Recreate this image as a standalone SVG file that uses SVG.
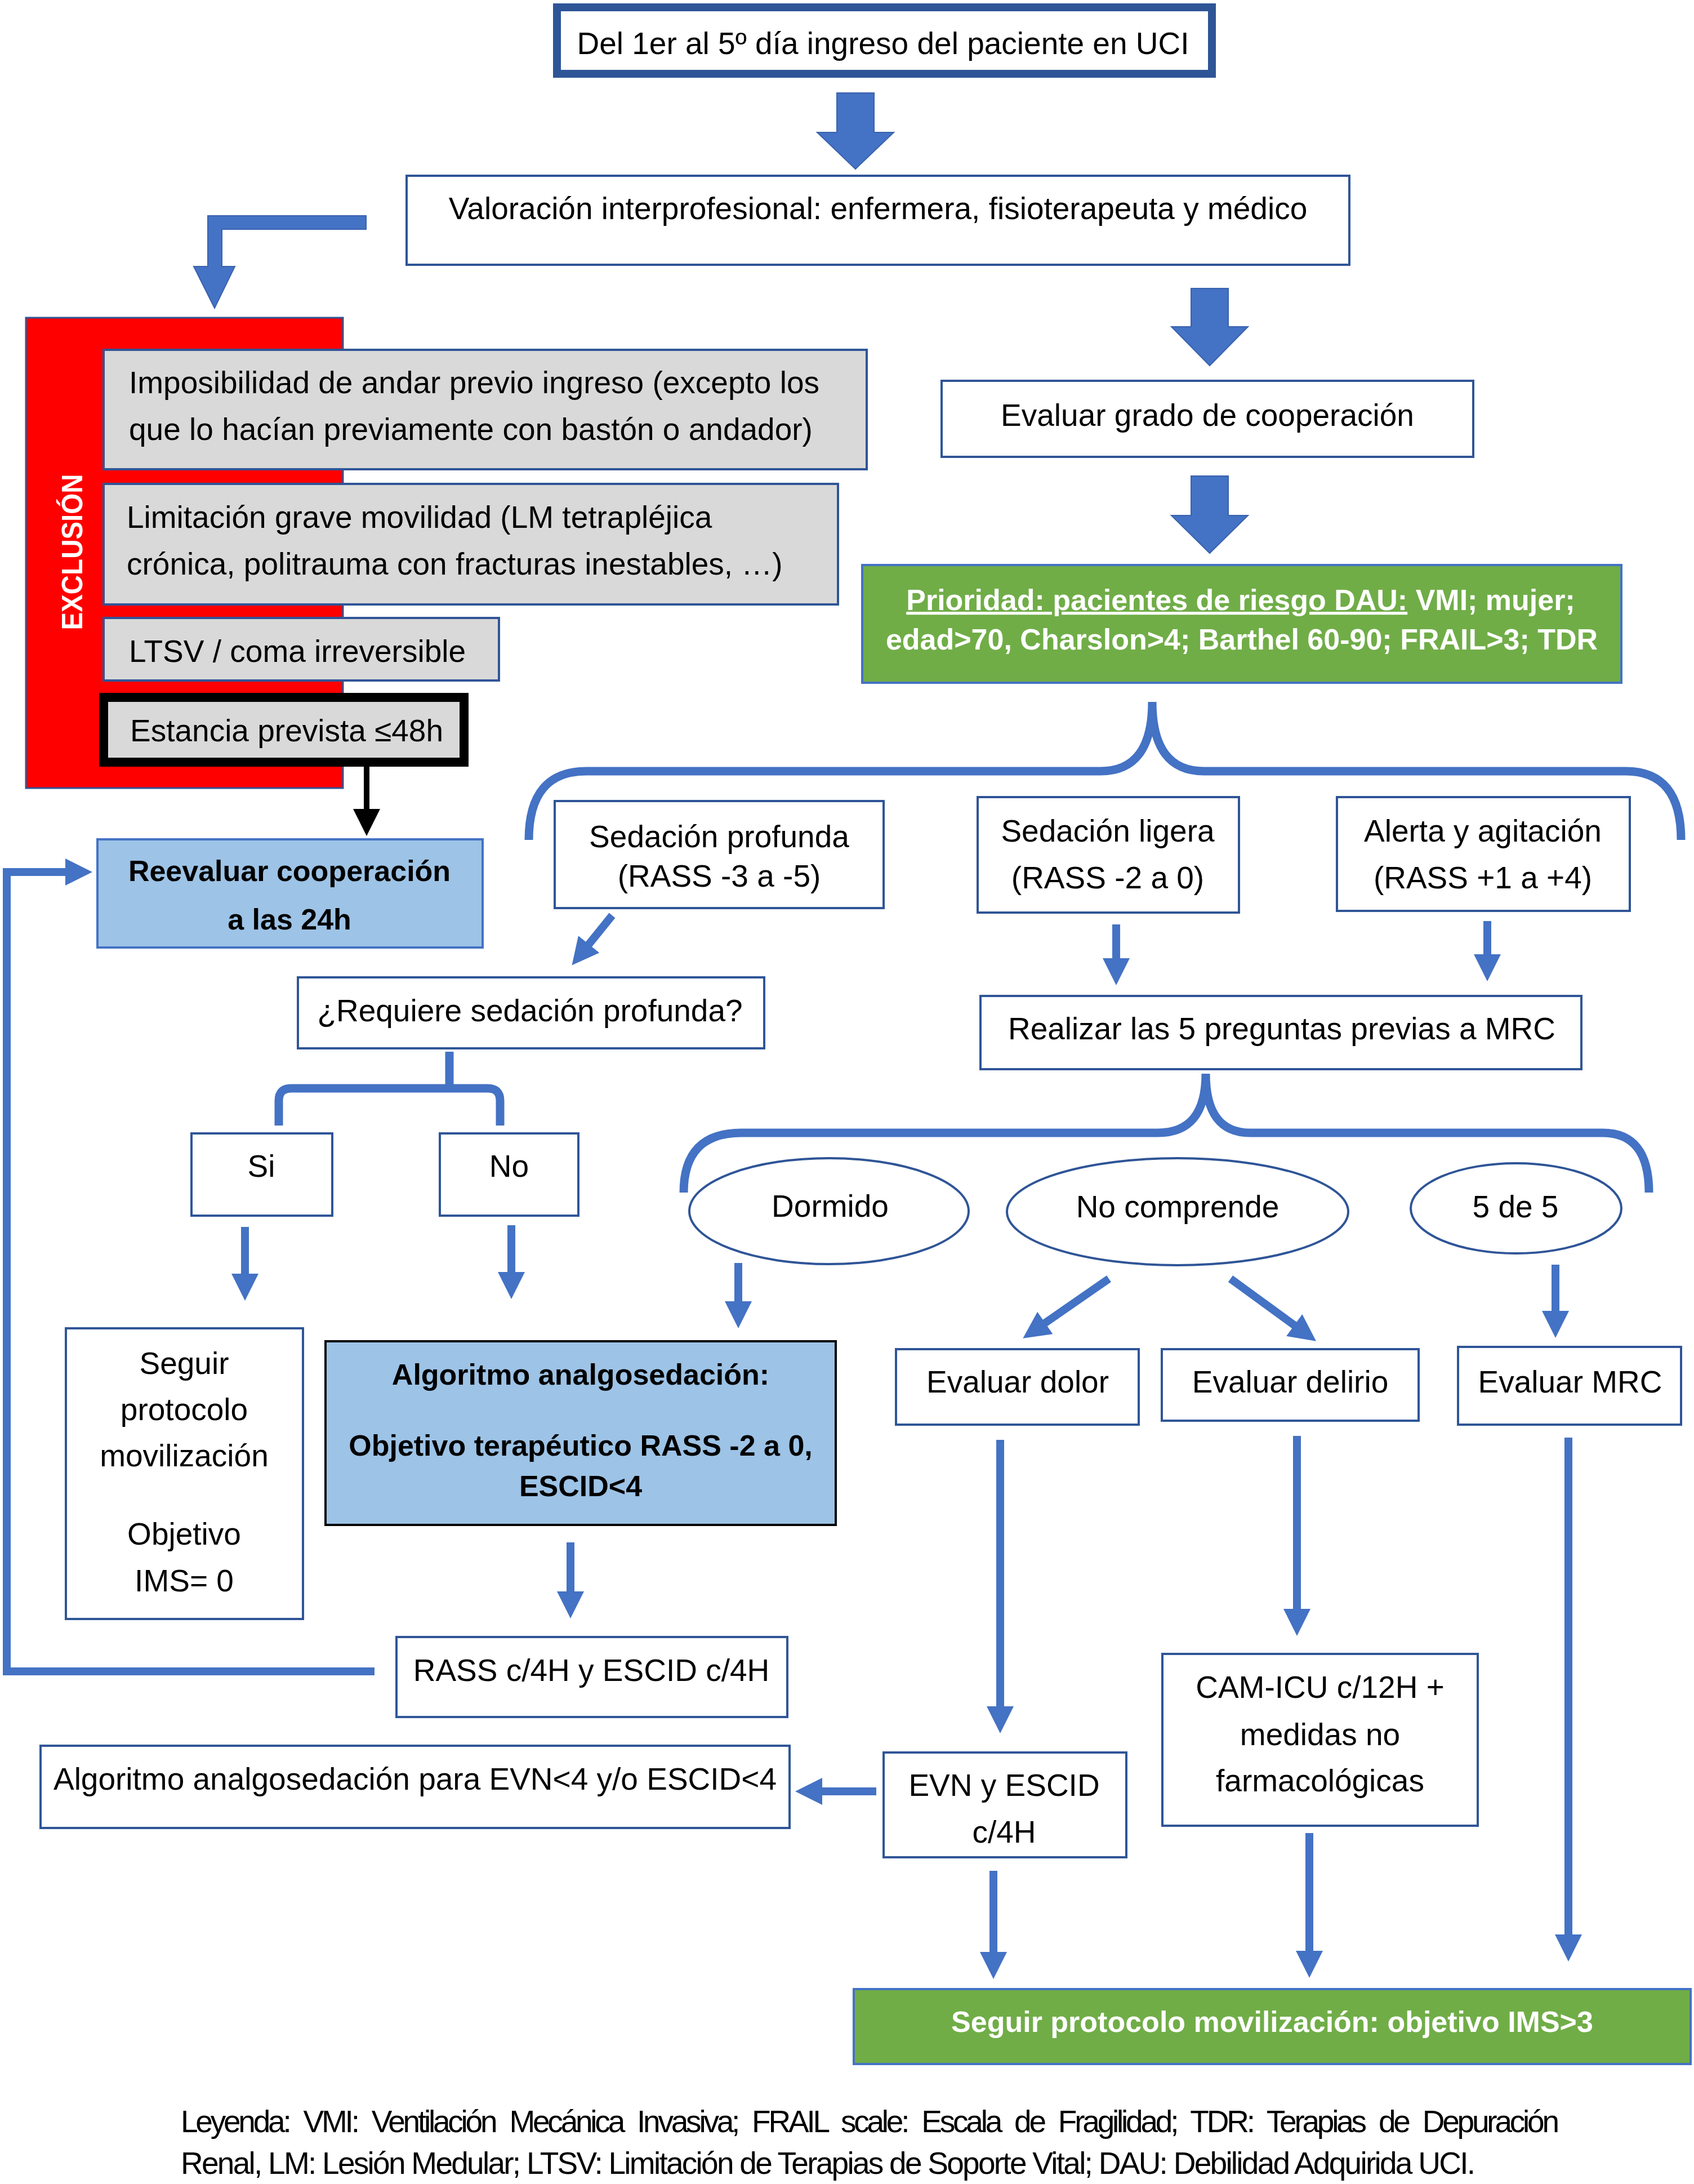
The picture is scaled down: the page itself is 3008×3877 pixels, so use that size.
<svg xmlns="http://www.w3.org/2000/svg" width="3008" height="3877" viewBox="0 0 3008 3877">
<style>
.box{fill:#fff;stroke:#2F5597;stroke-width:4}
.gray{fill:#D9D9D9;stroke:#2F5597;stroke-width:4}
.t{font-family:"Liberation Sans",Arial,sans-serif;font-size:55px;fill:#000}
.b{font-weight:bold;font-size:52px}
.c{text-anchor:middle}
.w{fill:#fff}
.conn{fill:none;stroke:#4472C4;stroke-width:14}
.brace{fill:none;stroke:#4472C4;stroke-width:15}
.block{fill:#4472C4;stroke:#3A62AE;stroke-width:2}
</style>
<defs>
<marker id="ah" markerUnits="userSpaceOnUse" markerWidth="48" markerHeight="48" viewBox="0 0 48 48" refX="1" refY="24" orient="auto"><path d="M0,0 L48,24 L0,48 z" fill="#4472C4"/></marker>
<marker id="ahk" markerUnits="userSpaceOnUse" markerWidth="48" markerHeight="48" viewBox="0 0 48 48" refX="1" refY="24" orient="auto"><path d="M0,0 L48,24 L0,48 z" fill="#000"/></marker>
</defs>
<rect width="3008" height="3877" fill="#fff"/>

<g id="connectors">
<polygon class="block" points="1486,165 1552,165 1552,235 1587,235 1519,300 1451,235 1486,235"/>
<polygon class="block" points="2115,512 2181,512 2181,580 2216,580 2148,649 2080,580 2115,580"/>
<polygon class="block" points="2115,845 2181,845 2181,915 2216,915 2148,982 2080,915 2115,915"/>
<polygon class="block" points="650,383 369,383 369,473 344,473 381,547 417,473 394,473 394,407 650,407"/>
<line x1="651" y1="1361" x2="651" y2="1437" stroke="#000" stroke-width="10" marker-end="url(#ahk)"/>
<path class="conn" d="M665,2967 L12,2967 L12,1548 L117,1548" marker-end="url(#ah)"/>
<path class="brace" d="M939,1491 Q939,1369 1041,1369 L1954,1369 Q2046,1369 2046,1246 Q2046,1369 2138,1369 L2887,1369 Q2985,1369 2985,1491"/>
<path class="brace" d="M1214,2117 Q1214,2011 1316,2011 L2056,2011 Q2141,2011 2141,1906 Q2141,2011 2220,2011 L2846,2011 Q2928,2011 2928,2117"/>
<path class="brace" d="M495,1998 L495,1954 Q495,1932 517,1932 L866,1932 Q888,1932 888,1954 L888,1998 M798,1867 L798,1932"/>
<line class="conn" x1="1087" y1="1625" x2="1045" y2="1677" marker-end="url(#ah)"/>
<line class="conn" x1="1982" y1="1641" x2="1982" y2="1702" marker-end="url(#ah)"/>
<line class="conn" x1="2641" y1="1635" x2="2641" y2="1695" marker-end="url(#ah)"/>
<line class="conn" x1="435" y1="2178" x2="435" y2="2262" marker-end="url(#ah)"/>
<line class="conn" x1="908" y1="2175" x2="908" y2="2259" marker-end="url(#ah)"/>
<line class="conn" x1="1311" y1="2242" x2="1311" y2="2311" marker-end="url(#ah)"/>
<line class="conn" stroke-width="16" x1="1969" y1="2270" x2="1855" y2="2349" marker-end="url(#ah)"/>
<line class="conn" stroke-width="16" x1="2185" y1="2270" x2="2299" y2="2353" marker-end="url(#ah)"/>
<line class="conn" x1="2762" y1="2245" x2="2762" y2="2328" marker-end="url(#ah)"/>
<line class="conn" x1="1776" y1="2556" x2="1776" y2="3030" marker-end="url(#ah)"/>
<line class="conn" x1="2303" y1="2549" x2="2303" y2="2857" marker-end="url(#ah)"/>
<line class="conn" x1="2785" y1="2552" x2="2785" y2="3435" marker-end="url(#ah)"/>
<line class="conn" x1="1013" y1="2738" x2="1013" y2="2826" marker-end="url(#ah)"/>
<line class="conn" x1="1764" y1="3321" x2="1764" y2="3466" marker-end="url(#ah)"/>
<line class="conn" x1="2325" y1="3254" x2="2325" y2="3464" marker-end="url(#ah)"/>
<line class="conn" x1="1556" y1="3180" x2="1459" y2="3180" marker-end="url(#ah)"/>
</g>

<g id="inicio">
<rect x="989" y="13" width="1163" height="118" fill="#fff" stroke="#2F5597" stroke-width="14"/>
<text class="t c" x="1568" y="96">Del 1er al 5º día ingreso del paciente en UCI</text>
</g>
<g id="valoracion">
<rect class="box" x="722" y="312" width="1674" height="158"/>
<text class="t c" x="1559" y="389">Valoración interprofesional: enfermera, fisioterapeuta y médico</text>
</g>
<g id="exclusion">
<rect x="46" y="564" width="563" height="835" fill="#FF0000" stroke="#2F5597" stroke-width="3"/>
<text class="t b c w" transform="translate(146,980) rotate(-90)" font-size="52" textLength="277" lengthAdjust="spacingAndGlyphs">EXCLUSIÓN</text>
</g>
<g id="excl1">
<rect class="gray" x="184" y="621" width="1355" height="212"/>
<text class="t" x="229" y="698">Imposibilidad de andar previo ingreso (excepto los</text>
<text class="t" x="229" y="781">que lo hacían previamente con bastón o andador)</text>
</g>
<g id="excl2">
<rect class="gray" x="184" y="859" width="1304" height="214"/>
<text class="t" x="225" y="937">Limitación grave movilidad (LM tetrapléjica</text>
<text class="t" x="225" y="1020">crónica, politrauma con fracturas inestables, …)</text>
</g>
<g id="excl3">
<rect class="gray" x="184" y="1097" width="702" height="111"/>
<text class="t" x="229" y="1175">LTSV / coma irreversible</text>
</g>
<g id="excl4">
<rect x="184" y="1238" width="640" height="115" fill="#D9D9D9" stroke="#000" stroke-width="16"/>
<text class="t" x="231" y="1316">Estancia prevista ≤48h</text>
</g>
<g id="evaluar-cooperacion">
<rect class="box" x="1672" y="676" width="944" height="135"/>
<text class="t c" x="2144" y="756">Evaluar grado de cooperación</text>
</g>
<g id="prioridad">
<rect x="1531" y="1003" width="1348" height="209" fill="#70AD47" stroke="#4472C4" stroke-width="4"/>
<text class="t b c w" x="2203" y="1083"><tspan text-decoration="underline">Prioridad: pacientes de riesgo DAU:</tspan> VMI; mujer;</text>
<text class="t b c w" x="2205" y="1153" font-size="51">edad&gt;70, Charslon&gt;4; Barthel 60-90; FRAIL&gt;3; TDR</text>
</g>
<g id="reevaluar">
<rect x="173" y="1490" width="684" height="192" fill="#9DC3E6" stroke="#4472C4" stroke-width="4"/>
<text class="t b c" x="514" y="1564">Reevaluar cooperación</text>
<text class="t b c" x="514" y="1650">a las 24h</text>
</g>
<g id="sedacion-profunda">
<rect class="box" x="985" y="1422" width="584" height="190"/>
<text class="t c" x="1277" y="1504">Sedación profunda</text>
<text class="t c" x="1277" y="1574">(RASS -3 a -5)</text>
</g>
<g id="sedacion-ligera">
<rect class="box" x="1736" y="1415" width="464" height="205"/>
<text class="t c" x="1967" y="1494">Sedación ligera</text>
<text class="t c" x="1967" y="1577">(RASS -2 a 0)</text>
</g>
<g id="alerta">
<rect class="box" x="2374" y="1415" width="520" height="202"/>
<text class="t c" x="2633" y="1494">Alerta y agitación</text>
<text class="t c" x="2633" y="1577">(RASS +1 a +4)</text>
</g>
<g id="requiere">
<rect class="box" x="529" y="1735" width="828" height="126"/>
<text class="t c" x="941" y="1813">¿Requiere sedación profunda?</text>
</g>
<g id="realizar">
<rect class="box" x="1741" y="1768" width="1067" height="130"/>
<text class="t c" x="2276" y="1845">Realizar las 5 preguntas previas a MRC</text>
</g>
<g id="si">
<rect class="box" x="340" y="2012" width="250" height="146"/>
<text class="t c" x="464" y="2089">Si</text>
</g>
<g id="no">
<rect class="box" x="781" y="2012" width="246" height="146"/>
<text class="t c" x="904" y="2089">No</text>
</g>
<g id="dormido">
<ellipse class="box" cx="1472" cy="2150" rx="248" ry="94"/>
<text class="t c" x="1474" y="2160">Dormido</text>
</g>
<g id="no-comprende">
<ellipse class="box" cx="2091" cy="2151" rx="303" ry="95"/>
<text class="t c" x="2091" y="2161" font-size="50">No comprende</text>
</g>
<g id="cinco">
<ellipse class="box" cx="2692" cy="2145" rx="187" ry="80"/>
<text class="t c" x="2691" y="2161" font-size="53">5 de 5</text>
</g>
<g id="evaluar-dolor">
<rect class="box" x="1591" y="2395" width="431" height="134"/>
<text class="t c" x="1807" y="2472">Evaluar dolor</text>
</g>
<g id="evaluar-delirio">
<rect class="box" x="2063" y="2395" width="456" height="127"/>
<text class="t c" x="2291" y="2472">Evaluar delirio</text>
</g>
<g id="evaluar-mrc">
<rect class="box" x="2589" y="2391" width="396" height="138"/>
<text class="t c" x="2788" y="2472" font-size="53">Evaluar MRC</text>
</g>
<g id="seguir-protocolo">
<rect class="box" x="117" y="2358" width="421" height="516"/>
<text class="t c" x="327" y="2439">Seguir</text>
<text class="t c" x="327" y="2521">protocolo</text>
<text class="t c" x="327" y="2603">movilización</text>
<text class="t c" x="327" y="2742">Objetivo</text>
<text class="t c" x="327" y="2825">IMS= 0</text>
</g>
<g id="algoritmo">
<rect x="578" y="2381" width="906" height="326" fill="#9DC3E6" stroke="#000" stroke-width="4"/>
<text class="t b c" x="1031" y="2458">Algoritmo analgosedación:</text>
<text class="t b c" x="1031" y="2584">Objetivo terapéutico RASS -2 a 0,</text>
<text class="t b c" x="1031" y="2656">ESCID&lt;4</text>
</g>
<g id="rass">
<rect class="box" x="704" y="2906" width="694" height="142"/>
<text class="t c" x="1050" y="2984">RASS c/4H y ESCID c/4H</text>
</g>
<g id="algoritmo-evn">
<rect class="box" x="72" y="3099" width="1330" height="146"/>
<text class="t c" x="737" y="3177">Algoritmo analgosedación para EVN&lt;4 y/o ESCID&lt;4</text>
</g>
<g id="evn">
<rect class="box" x="1569" y="3111" width="431" height="186"/>
<text class="t c" x="1783" y="3188">EVN y ESCID</text>
<text class="t c" x="1783" y="3271">c/4H</text>
</g>
<g id="cam-icu">
<rect class="box" x="2064" y="2936" width="560" height="305"/>
<text class="t c" x="2344" y="3014">CAM-ICU c/12H +</text>
<text class="t c" x="2344" y="3098">medidas no</text>
<text class="t c" x="2344" y="3180">farmacológicas</text>
</g>
<g id="objetivo-final">
<rect x="1516" y="3531" width="1486" height="133" fill="#70AD47" stroke="#4472C4" stroke-width="4"/>
<text class="t b c w" x="2259" y="3607">Seguir protocolo movilización: objetivo IMS&gt;3</text>
</g>
<g id="leyenda">
<text class="t" x="321" y="3785" font-size="40" word-spacing="14" textLength="2448" lengthAdjust="spacing">Leyenda: VMI: Ventilación Mecánica Invasiva; FRAIL scale: Escala de Fragilidad; TDR: Terapias de Depuración</text>
<text class="t" x="321" y="3859" font-size="40" textLength="2299" lengthAdjust="spacing">Renal, LM: Lesión Medular; LTSV: Limitación de Terapias de Soporte Vital; DAU: Debilidad Adquirida UCI.</text>
</g>
</svg>
